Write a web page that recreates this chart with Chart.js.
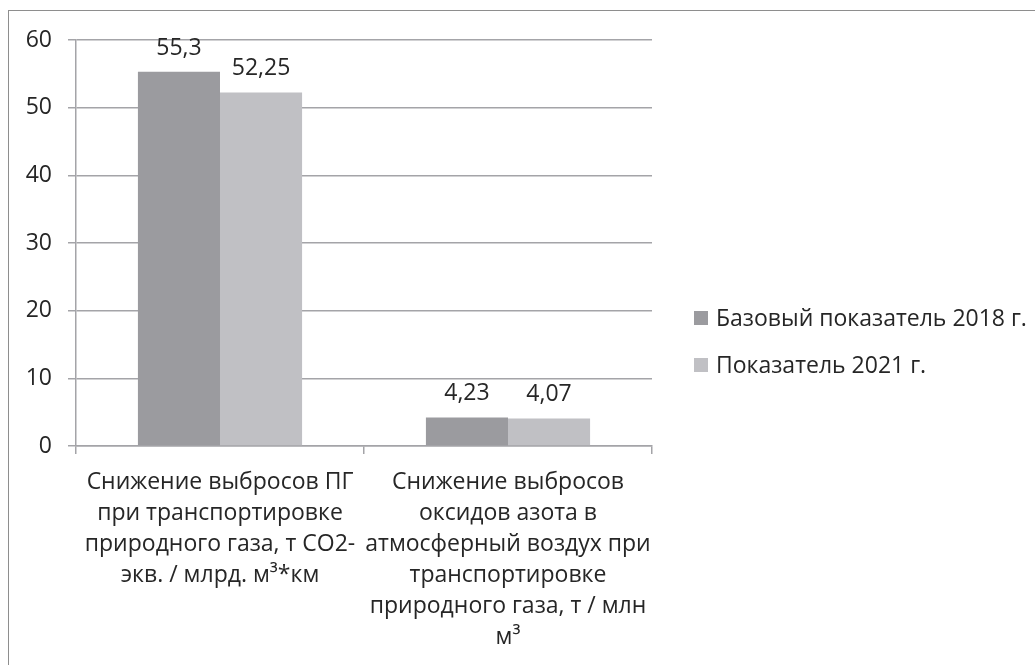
<!DOCTYPE html>
<html>
<head>
<meta charset="utf-8">
<title>Снижение выбросов</title>
<script src="https://cdn.jsdelivr.net/npm/chart.js@4.4.1/dist/chart.umd.min.js"></script>
<style>
   html, body { margin: 0; padding: 0; background: #fff; overflow: hidden; }
   .frame { position: absolute; left: 8px; top: 10px; width: 1100px; height: 700px; border: 1px solid #8e8e8e; }
   .wrap { position: absolute; left: 0; top: 0; width: 1035px; height: 665px; }
</style>
</head>
<body>
<div class="frame"></div>
<div class="wrap"><canvas id="emissionsChart"></canvas></div>
<script>
// Chart data
// ----------------------------------------------
const categories = [
   ['Снижение выбросов ПГ', 'при транспортировке', 'природного газа, т CO2-', 'экв. / млрд. м³*км'],
   ['Снижение выбросов', 'оксидов азота в', 'атмосферный воздух при', 'транспортировке', 'природного газа, т / млн', 'м³']
];
const seriesNames = ['Базовый показатель 2018 г.', 'Показатель 2021 г.'];
const base2018 = [55.3, 4.23];
const value2021 = [52.25, 4.07];
const yMin = 0, yMax = 60, yStep = 10;

const darkBar  = '#9b9b9f';
const lightBar = '#c0c0c4';
const gridGray = '#a4a4a8';
const textColor = '#262626';
const fontFamily = "'Open Sans', sans-serif";
const fontSize = 23;

const fmt = v => String(v).replace('.', ',');

// Values above the bars
// ----------------------------------------------
const valueLabels = {
   id: 'valueLabels',
   afterDatasetsDraw( chart ) {
      const ctx = chart.ctx;
      ctx.save();
      ctx.font = `${fontSize}px ${fontFamily}`;
      ctx.fillStyle = textColor;
      ctx.textAlign = 'center';
      ctx.textBaseline = 'alphabetic';
      chart.data.datasets.forEach( (ds, i) => {
         chart.getDatasetMeta(i).data.forEach( (bar, j) => {
            ctx.fillText( fmt(ds.data[j]), bar.x, bar.y - 17 );
         });
      });
      ctx.restore();
   }
};

// Legend on the right, beside the plot
// ----------------------------------------------
const sideLegend = {
   id: 'sideLegend',
   afterDraw( chart ) {
      const ctx = chart.ctx;
      const x = chart.chartArea.right + 42;
      const rows = [318, 365];
      ctx.save();
      ctx.font = `${fontSize}px ${fontFamily}`;
      ctx.textBaseline = 'middle';
      chart.data.datasets.forEach( (ds, i) => {
         ctx.fillStyle = ds.backgroundColor;
         ctx.fillRect( x, rows[i] - 7, 14, 14 );
         ctx.fillStyle = textColor;
         ctx.fillText( ds.label, x + 22, rows[i] + 1 );
      });
      ctx.restore();
   }
};

document.addEventListener( "DOMContentLoaded", () => {

   new Chart( document.getElementById('emissionsChart'), {
      type: 'bar',
      data: {
         labels: categories,
         datasets: [
            { label: seriesNames[0], data: base2018, backgroundColor: darkBar },
            { label: seriesNames[1], data: value2021, backgroundColor: lightBar }
         ]
      },
      options: {
         responsive: true,
         maintainAspectRatio: false,
         animation: false,
         layout: { padding: { top: 40, right: 383, left: 0, bottom: 0 } },
         datasets: {
            bar: { categoryPercentage: 0.57, barPercentage: 1 }
         },
         plugins: {
            legend: { display: false },
            tooltip: { enabled: false }
         },
         scales: {
            y: {
               min: yMin,
               max: yMax,
               afterFit: s => { s.width = 76; },
               border: { display: true, color: gridGray, width: 1.5 },
               grid: { color: gridGray, lineWidth: 1.5, tickLength: 8 },
               ticks: {
                  stepSize: yStep,
                  padding: 16,
                  color: textColor,
                  font: { family: fontFamily, size: fontSize }
               }
            },
            x: {
               afterFit: s => { s.height = 219; },
               border: { display: true, color: gridGray, width: 1.5 },
               grid: { color: gridGray, lineWidth: 1.5, tickLength: 8, drawOnChartArea: false },
               ticks: {
                  padding: 13,
                  maxRotation: 0,
                  autoSkip: false,
                  color: textColor,
                  font: { family: fontFamily, size: fontSize, lineHeight: 31 / fontSize }
               }
            }
         }
      },
      plugins: [valueLabels, sideLegend]
   });

});
</script>
</body>
</html>
